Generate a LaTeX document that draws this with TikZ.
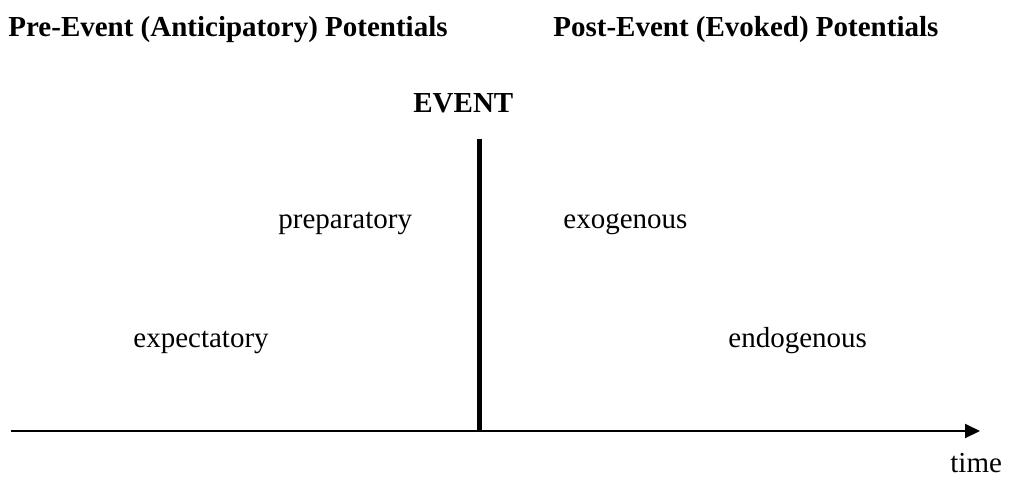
\documentclass[tikz,border=0pt]{standalone}
\usepackage{fontspec}
\setmainfont{Liberation Serif}
\usetikzlibrary{arrows.meta}

\begin{document}
\begin{tikzpicture}[
    x=0.5pt,y=-0.5pt,
    lbl/.style={anchor=base west,inner sep=0pt,
                font=\fontsize{14.5}{17}\selectfont},
    heading/.style={lbl,font=\fontsize{14.5}{17}\selectfont\bfseries},
    eventline/.style={line width=2.5pt},
    timeaxis/.style={line width=1pt,-{Triangle[length=7.5pt,width=7pt]}},
]
\useasboundingbox (0,0) rectangle (1009,478);

% ---- positions -----------------------------------------------------------
\def\xEvent{479}
\def\yAxis{431}
\def\yUpper{228}
\def\yLower{347}

% ---- Headings ------------------------------------------------------------
\node[heading] (pre)  at (8,36)   {Pre-Event (Anticipatory) Potentials};
\node[heading] (post) at (553,36) {Post-Event (Evoked) Potentials};
\node[heading] (event) at (413,112) {EVENT};

% ---- Event marker and time axis -----------------------------------------
\coordinate (evtop) at (\xEvent,139);
\coordinate (evbot) at (\xEvent,\yAxis);
\coordinate (axstart) at (11,\yAxis);
\coordinate (axend)   at (980,\yAxis);
\draw[eventline] (evtop) -- (evbot);
\draw[timeaxis] (axstart) -- (axend);
\node[lbl] (time) at (950,472) {time};

% ---- Potentials ----------------------------------------------------------
\node[lbl] (prep) at (278,\yUpper) {preparatory};
\node[lbl] (exo)  at (563,\yUpper) {exogenous};
\node[lbl] (expc) at (133,\yLower) {expectatory};
\node[lbl] (endo) at (728,\yLower) {endogenous};

\end{tikzpicture}
\end{document}
